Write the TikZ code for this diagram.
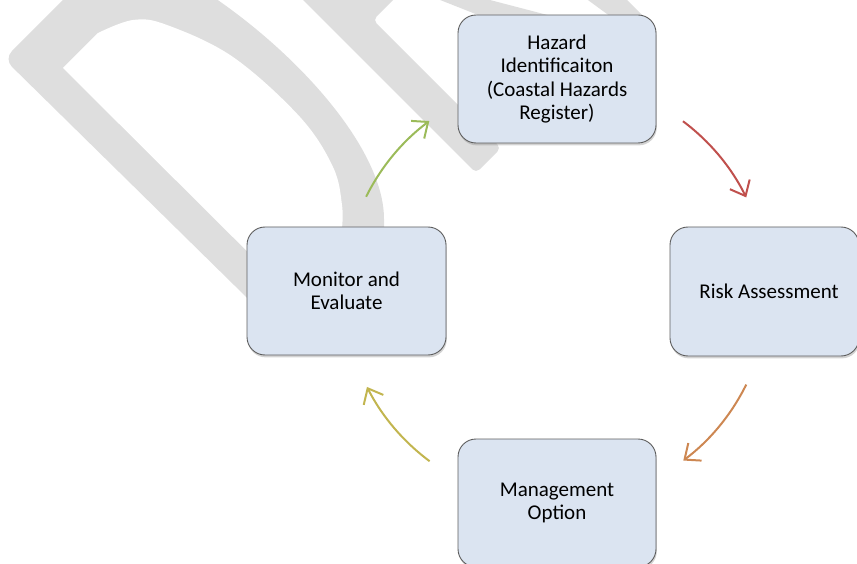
\documentclass[tikz,border=0pt]{standalone}
\usepackage{fontspec}
\setmainfont{Carlito}
\usetikzlibrary{arrows.meta,shadows}
\definecolor{wm}{HTML}{DEDEDE}
\definecolor{boxfill}{HTML}{DBE4F1}
\definecolor{boxline}{HTML}{5E5E5E}
\definecolor{arrgreen}{HTML}{9BBB59}
\definecolor{arrred}{HTML}{C0504D}
\definecolor{arrorange}{HTML}{CD8752}
\definecolor{arrolive}{HTML}{C2B54F}
\begin{document}
\begin{tikzpicture}[x=1pt,y=-1pt,
  stagebox/.style={draw=boxline, line width=0.9pt, rounded corners=18pt, fill=boxfill,
    align=center, font=\fontsize{21}{23.5}\selectfont, inner sep=0pt,
    drop shadow={shadow xshift=0.8pt, shadow yshift=-2.4pt, opacity=0.35}},
  cyc/.style={line width=2pt, -{Straight Barb[length=13pt,width=22pt]}}]
\useasboundingbox (0,0) rectangle (857,564);
\clip (0,0) rectangle (857,564);
% watermark letters
\fill[wm, rounded corners=11pt] (75,-12) -- (4,59) -- (292,342) -- (384,342) -- (384,230)
  .. controls (384,150) and (300,55) .. (200,-12) -- cycle;
\fill[white] (342,300) -- (290,294) -- (63,68) -- (98,33)
  -- plot[smooth, tension=0.6] coordinates {(98,33) (133,20) (167,25) (233,57) (300,117) (333,167) (342,205) (342,228)} -- cycle;
\fill[wm, rounded corners=5pt] (290,-13) -- (476,173) -- (501,148) -- (373,20) -- (406,-13) -- cycle;
\fill[wm] (425,-6) -- (516,30) -- (605,30) -- (467,-6) -- cycle;
\fill[wm] (577,-8) -- (622,25) -- (652,25) -- (619,-8) -- cycle;
% stages
\node[stagebox, minimum width=198pt, minimum height=128pt] (haz) at (557,79)
  {Hazard\\Identificaiton\\(Coastal Hazards\\Register)};
\node[stagebox, minimum width=189pt, minimum height=129pt] (risk) at (764.5,291.5)
  {\hspace*{9pt}Risk Assessment};
\node[stagebox, minimum width=198pt, minimum height=128pt] (mgmt) at (557,503)
  {Management\\Option};
\node[stagebox, minimum width=199pt, minimum height=128pt] (mon) at (346.5,291)
  {Monitor and\\Evaluate};
% cycle arrows
\coordinate (ctr) at (556,291);
\path (ctr) ++(206.4:212) coordinate (gS);
\path (ctr) ++(306.8:212) coordinate (rS);
\path (ctr) ++(26.2:212) coordinate (oS);
\path (ctr) ++(126.6:212) coordinate (yS);
\draw[cyc, draw=arrgreen] (gS) arc[start angle=206.4, end angle=233.3, radius=212];
\draw[cyc, draw=arrred] (rS) arc[start angle=306.8, end angle=333.8, radius=212];
\draw[cyc, draw=arrorange] (oS) arc[start angle=26.2, end angle=53.1, radius=212];
\draw[cyc, draw=arrolive] (yS) arc[start angle=126.6, end angle=153.1, radius=212];
\end{tikzpicture}
\end{document}
